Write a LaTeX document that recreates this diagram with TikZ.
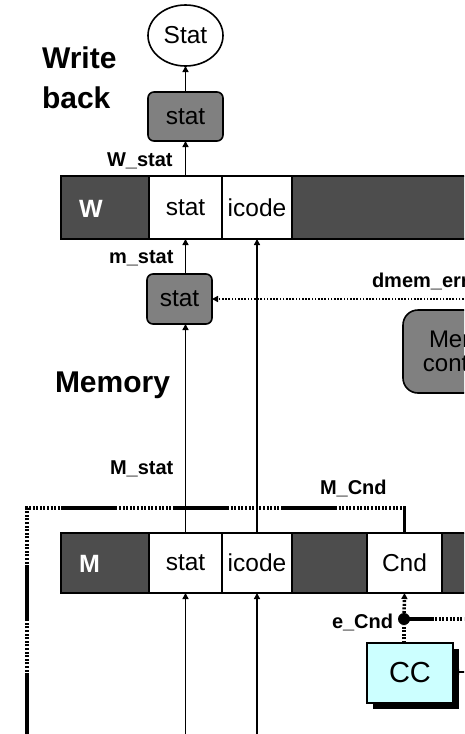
\documentclass[tikz,border=0pt]{standalone}
\usepackage{fontspec}
\setmainfont{Liberation Sans}
\usetikzlibrary{arrows.meta,shapes.geometric,shadows}
\definecolor{regdark}{RGB}{77,77,77}
\definecolor{boxgray}{RGB}{128,128,128}
\definecolor{ccfill}{RGB}{204,255,255}
\begin{document}
\begin{tikzpicture}[x=1pt,y=-1pt,
  every node/.style={inner sep=0pt, outer sep=0pt},
  txt/.style={font=\fontsize{24.5}{28}\selectfont},
  lbl/.style={font=\bfseries\fontsize{20}{22}\selectfont, anchor=base west},
  stage/.style={font=\bfseries\fontsize{30}{36}\selectfont, anchor=base west},
  regname/.style={font=\bfseries\fontsize{25}{28}\selectfont, text=white},
  dk/.style={draw=black, line width=1.6pt, fill=regdark, anchor=north west},
  wc/.style={draw=black, line width=1.6pt, fill=white, anchor=north west, txt},
  graybox/.style={draw=black, line width=1.6pt, fill=boxgray, rounded corners=6pt, txt},
  tip/.style={-{Triangle[length=6pt,width=6pt]}},
  wire/.style={line width=1.6pt, tip},
  thindot/.style={line width=2.4pt, dash pattern=on 1.6pt off 1.6pt},
  thickdot/.style={line width=3.5pt, dash pattern=on 2pt off 1.6pt},
  thicksolid/.style={line width=3.5pt}
]
\useasboundingbox (0,0) rectangle (464,734);
\clip (0,0) rectangle (464,734);

% ---- Write back stage
\node[ellipse, draw, line width=1.6pt, minimum width=75pt, minimum height=61pt, txt] (statout) at (185.5,35.5) {Stat};
\node[stage] (wb1) at (42,68) {Write};
\node[stage] (wb2) at (42,108) {back};
\node[graybox, minimum width=75pt, minimum height=49pt] (wbox) at (185.5,116.5) {stat};
\node[lbl] (lwstat) at (107,166) {W\_stat};

% ---- W register
\node[dk, minimum width=88pt, minimum height=63pt] (wdk1) at (61,176) {};
\node[wc, minimum width=73pt, minimum height=63pt] (wstat) at (149,176) {stat};
\node[wc, minimum width=70pt, minimum height=63pt] (wicode) at (222,176) {icode};
\node[dk, minimum width=200pt, minimum height=63pt] (wdk2) at (292,176) {};
\node[regname] (wname) at (91,209) {W};

% ---- Memory stage
\node[lbl] (lmstat) at (109,263) {m\_stat};
\node[graybox, minimum width=65pt, minimum height=50pt] (mbox) at (179.5,299) {stat};
\node[lbl] (ldmem) at (372,287) {dmem\_err};
\coordinate (dmemsrc) at (470,299);
\node[graybox, rounded corners=15pt, minimum width=112pt, minimum height=83pt, align=center, font=\fontsize{24}{24}\selectfont] (memctl) at (459,351.5) {Mem.\\control};
\node[stage] (lmemory) at (55,392) {Memory};
\node[lbl] (lMstat) at (110,474) {M\_stat};
\node[lbl] (lMcnd) at (320,494) {M\_Cnd};

% ---- M register
\node[dk, minimum width=88pt, minimum height=60pt] (mdk1) at (61,533) {};
\node[wc, minimum width=73pt, minimum height=60pt] (mstat) at (149,533) {stat};
\node[wc, minimum width=70pt, minimum height=60pt] (micode) at (222,533) {icode};
\node[dk, minimum width=75pt, minimum height=60pt] (mdk2) at (292,533) {};
\node[wc, minimum width=75pt, minimum height=60pt] (mcnd) at (367,533) {Cnd};
\node[dk, minimum width=60pt, minimum height=60pt] (mdk3) at (442,533) {};
\node[regname] (mname) at (89.5,564) {M};

% ---- Execute stage pieces
\node[lbl] (lecnd) at (332,628) {e\_Cnd};
\node[circle, fill=black, minimum size=12pt] (cnddot) at (404,619) {};
\coordinate (cndright) at (470,619);
\node[draw, line width=1.6pt, fill=ccfill, minimum width=86pt, minimum height=60pt,
      font=\fontsize{29}{32}\selectfont,
      drop shadow={shadow xshift=6pt, shadow yshift=-6pt, opacity=1, fill=black}] (cc) at (410,673) {CC};
\coordinate (ccsrc) at (470,672);
\coordinate (statsrc) at (185.5,740);
\coordinate (icodesrc) at (257,740);
\coordinate (cndbot) at (27,740);
\coordinate (cndcorner) at (27,508);

% ---- connectors
\draw[wire] (wbox) -- (statout);
\draw[wire] (wstat) -- (wbox);
\draw[wire] (mbox.north -| wstat.south) -- (wstat.south);
\draw[wire] (mstat.north) -- (mbox.south -| mstat.north);
\draw[wire] (micode.north) -- (wicode.south);
\draw[wire] (statsrc) -- (mstat.south);
\draw[wire] (icodesrc) -- (micode.south);
\draw[thindot, tip] (dmemsrc) -- (mbox.east);

\draw[thickdot] (cndbot) -- (cndcorner) -| (mcnd.north);
\draw[thicksolid, dash pattern=on 67pt off 53pt on 55pt off 92pt on 53pt off 58pt on 54pt off 56pt on 54pt off 67pt on 30pt off 10pt]
  (cndbot) -- (cndcorner) -| (mcnd.north);

\draw[thickdot, tip] (cnddot) -- (mcnd.south);
\draw[thickdot] (cc.north -| cnddot) -- (cnddot);
\draw[thickdot] (cnddot) -- (cndright);
\draw[thicksolid, dash pattern=on 29pt off 300pt] (cnddot.center) -- (cndright);
\draw[wire] (ccsrc) -- (cc.east |- ccsrc);
\end{tikzpicture}
\end{document}
